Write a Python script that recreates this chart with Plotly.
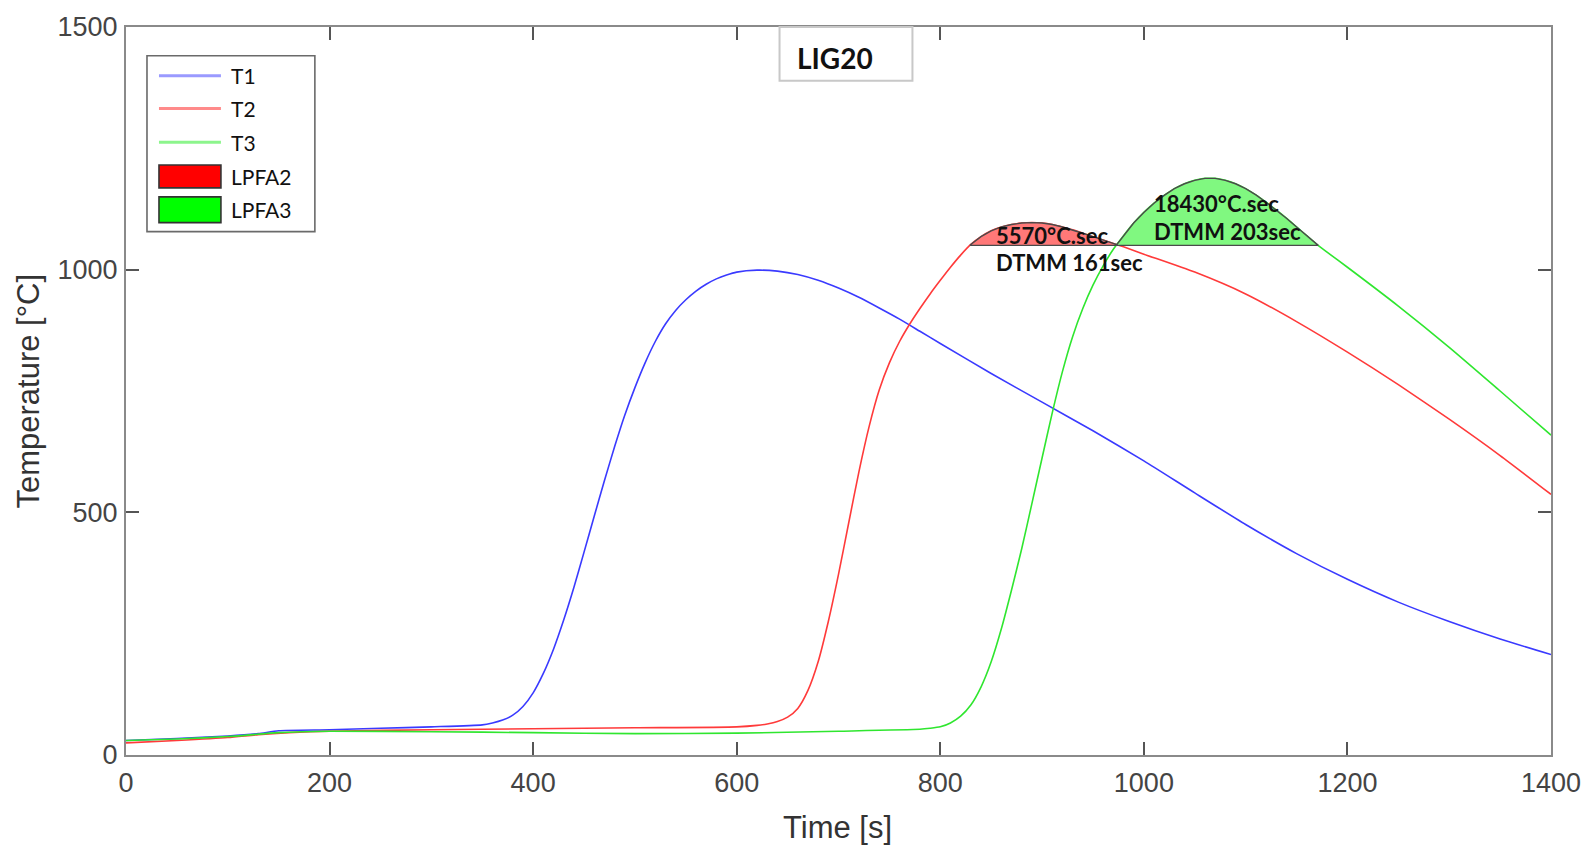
import numpy as np
import plotly.graph_objects as go

# ---------------- data ----------------
t1_x = [0, 50, 100, 130, 150, 200, 250, 300, 350, 360, 370, 380, 390, 400, 410, 420, 430, 440, 450, 460,
        470, 480, 490, 500, 510, 520, 530, 540, 550, 560, 570, 580, 590, 600, 620, 640, 660, 680, 700,
        720, 740, 760, 780, 800, 850, 900, 950, 1000, 1050, 1100, 1150, 1200, 1250, 1300, 1350, 1400]
t1_y = [30, 34, 39, 44, 50, 52, 55, 58, 62, 66, 72, 82, 100, 128, 168, 218, 278, 345, 418, 492,
        565, 635, 700, 757, 808, 852, 888, 916, 938, 956, 970, 981, 989, 995, 999, 997, 990, 978, 962,
        943, 921, 898, 873, 848, 786, 727, 668, 606, 540, 475, 415, 362, 315, 275, 239, 207]

t2_x = [0, 50, 100, 130, 160, 200, 300, 400, 500, 600, 620, 630, 640, 650, 660, 670, 680, 690, 700, 710,
        720, 730, 740, 750, 760, 770, 780, 790, 800, 810, 820, 830, 840, 850, 860, 870, 880, 890, 900,
        910, 920, 930, 940, 950, 960, 970, 980, 1000, 1050, 1100, 1150, 1200, 1250, 1300, 1350, 1400]
t2_y = [25, 30, 36, 42, 46, 49, 52, 54, 56, 58, 61, 64, 69, 78, 96, 133, 192, 275, 372, 478,
        583, 676, 752, 808, 852, 888, 920, 950, 978, 1005, 1030, 1052, 1068, 1080, 1088, 1093, 1096, 1097, 1096,
        1093, 1088, 1082, 1075, 1068, 1061, 1054, 1047, 1032, 995, 950, 893, 830, 763, 692, 617, 537]

t3_x = [0, 50, 100, 150, 200, 300, 400, 500, 600, 700, 780, 790, 800, 810, 820, 830, 840, 850, 860, 870,
        880, 890, 900, 910, 920, 930, 940, 950, 960, 970, 980, 990, 1000, 1010, 1020, 1030, 1040, 1050,
        1060, 1070, 1080, 1090, 1100, 1110, 1120, 1130, 1140, 1150, 1160, 1170, 1180, 1200, 1250, 1300,
        1350, 1400]
t3_y = [30, 33, 38, 46, 49, 48, 46, 44, 45, 49, 53, 55, 58, 66, 80, 103, 140, 192, 260, 340,
        425, 518, 612, 705, 790, 862, 920, 968, 1008, 1042, 1070, 1096, 1118, 1137, 1153, 1167, 1177, 1184,
        1188, 1188, 1184, 1177, 1167, 1154, 1139, 1123, 1106, 1088, 1070, 1052, 1036, 1005, 925, 840,
        750, 659]

threshold = 1050
series_names = ["T1", "T2", "T3"]
area_names = ["LPFA2", "LPFA3"]
area_labels = [["5570°C.sec", "DTMM 161sec"], ["18430°C.sec", "DTMM 203sec"]]
x_ticks = [0, 200, 400, 600, 800, 1000, 1200, 1400]
y_ticks = [0, 500, 1000, 1500]
chart_label = "LIG20"

# ---------------- styles ----------------
line_colors = ["#3a3aff", "#ff3a3a", "#2fe62f"]
legend_line_colors = ["#9a9aff", "#ff8a8a", "#8cf58c"]
fill_colors = ["#ff7878", "#80f880"]
legend_fill_colors = ["#ff0000", "#00ff00"]
edge_color = "#4a4a4a"

W, H = 1593, 846
L, R, T, B = 126, 41, 22, 91
PW, PH = W - L - R, H - T - B


def px_to_paper(px, py):
    return (px - L) / PW, (H - B - py) / PH


def area_above(xs, ys, thr):
    xs = np.asarray(xs, float)
    ys = np.asarray(ys, float)
    px, py = [], []
    for i in range(len(xs)):
        if i > 0 and (ys[i - 1] - thr) * (ys[i] - thr) < 0:
            xc = xs[i - 1] + (thr - ys[i - 1]) * (xs[i] - xs[i - 1]) / (ys[i] - ys[i - 1])
            px.append(xc)
            py.append(thr)
        if ys[i] >= thr:
            px.append(xs[i])
            py.append(ys[i])
    px.append(px[0])
    py.append(thr)
    return px, py


fig = go.Figure()

for name, xs, ys, c in zip(series_names, [t1_x, t2_x, t3_x], [t1_y, t2_y, t3_y], line_colors):
    fig.add_trace(go.Scatter(x=xs, y=ys, mode="lines", name=name,
                             line=dict(color=c, width=1.6, shape="spline", smoothing=0.6),
                             showlegend=False))

for name, xs, ys, fc in zip(area_names, [t2_x, t3_x], [t2_y, t3_y], fill_colors):
    ax, ay = area_above(xs, ys, threshold)
    fig.add_trace(go.Scatter(x=ax, y=ay, mode="lines", fill="toself", fillcolor=fc, name=name,
                             line=dict(color=edge_color, width=1.4), showlegend=False))

# area annotations
ann_pos = [[(853, 1071), (853, 1014)], [(1008, 1137), (1008, 1079)]]
annotations = []
for labels, poss in zip(area_labels, ann_pos):
    for txt, (ax_, ay_) in zip(labels, poss):
        annotations.append(dict(x=ax_, y=ay_, xref="x", yref="y", text=txt, showarrow=False,
                                xanchor="left", yanchor="middle",
                                font=dict(family="Lato", size=22, color="#111111", weight="bold")))

shapes = []
# chart label box
bx0, by0 = px_to_paper(780, 22)
bx1, by1 = px_to_paper(913, 76)
shapes.append(dict(type="rect", xref="paper", yref="paper", x0=bx0, x1=bx1, y0=by1, y1=by0,
                   line=dict(color="#c8c8c8", width=2), fillcolor="white", layer="above"))
lx, ly = px_to_paper(835, 53)
annotations.append(dict(x=lx, y=ly, xref="paper", yref="paper", text=chart_label, showarrow=False,
                        xanchor="center", yanchor="middle",
                        font=dict(family="Lato", size=28, color="#111111", weight="bold")))

# manual legend
gx0, gy0 = px_to_paper(147, 51)
gx1, gy1 = px_to_paper(315, 228)
shapes.append(dict(type="rect", xref="paper", yref="paper", x0=gx0, x1=gx1, y0=gy1, y1=gy0,
                   line=dict(color="#6a6a6a", width=1.6), fillcolor="white", layer="above"))
sx0, _ = px_to_paper(159, 0)
sx1, _ = px_to_paper(221, 0)
tx, _ = px_to_paper(229, 0)
for name, c, py in zip(series_names, legend_line_colors, [71, 104, 138]):
    _, yy = px_to_paper(0, py)
    shapes.append(dict(type="line", xref="paper", yref="paper", x0=sx0, x1=sx1, y0=yy, y1=yy,
                       line=dict(color=c, width=3), layer="above"))
    annotations.append(dict(x=tx, y=yy, xref="paper", yref="paper", text=name, showarrow=False,
                            xanchor="left", yanchor="middle",
                            font=dict(family="Lato", size=21, color="#111111")))
for name, c, (pa, pb) in zip(area_names, legend_fill_colors, [(161, 184), (193, 219)]):
    _, ya = px_to_paper(0, pa)
    _, yb = px_to_paper(0, pb)
    shapes.append(dict(type="rect", xref="paper", yref="paper", x0=sx0, x1=sx1, y0=yb, y1=ya,
                       line=dict(color="#333333", width=1.6), fillcolor=c, layer="above"))
    annotations.append(dict(x=tx, y=(ya + yb) / 2, xref="paper", yref="paper", text=name,
                            showarrow=False, xanchor="left", yanchor="middle",
                            font=dict(family="Lato", size=21, color="#111111")))

# axis titles
xtx, xty = px_to_paper(838, 828)
annotations.append(dict(x=xtx, y=xty, xref="paper", yref="paper", text="Time [s]", showarrow=False,
                        xanchor="center", yanchor="middle",
                        font=dict(family="Liberation Sans", size=31, color="#333333")))
ytx, yty = px_to_paper(28, 389)
annotations.append(dict(x=ytx, y=yty, xref="paper", yref="paper", text="Temperature [°C]",
                        showarrow=False, textangle=-90, xanchor="center", yanchor="middle",
                        font=dict(family="Liberation Sans", size=31, color="#333333")))

axis_common = dict(showgrid=False, zeroline=False, showline=True, mirror="ticks",
                   linecolor="#8a8a8a", linewidth=2, ticks="inside", ticklen=13,
                   tickcolor="#555555", tickwidth=1.5,
                   tickfont=dict(family="Liberation Sans", size=27, color="#444444"))

fig.update_layout(
    width=W, height=H,
    margin=dict(l=L, r=R, t=T, b=B, pad=0),
    paper_bgcolor="white", plot_bgcolor="white",
    xaxis=dict(range=[0, 1400], tickvals=x_ticks, ticklabelstandoff=3, **axis_common),
    yaxis=dict(range=[0, 1500], tickvals=y_ticks, ticklabelstandoff=1, **axis_common),
    shapes=shapes, annotations=annotations, showlegend=False,
)

fig.write_html("out.html")
